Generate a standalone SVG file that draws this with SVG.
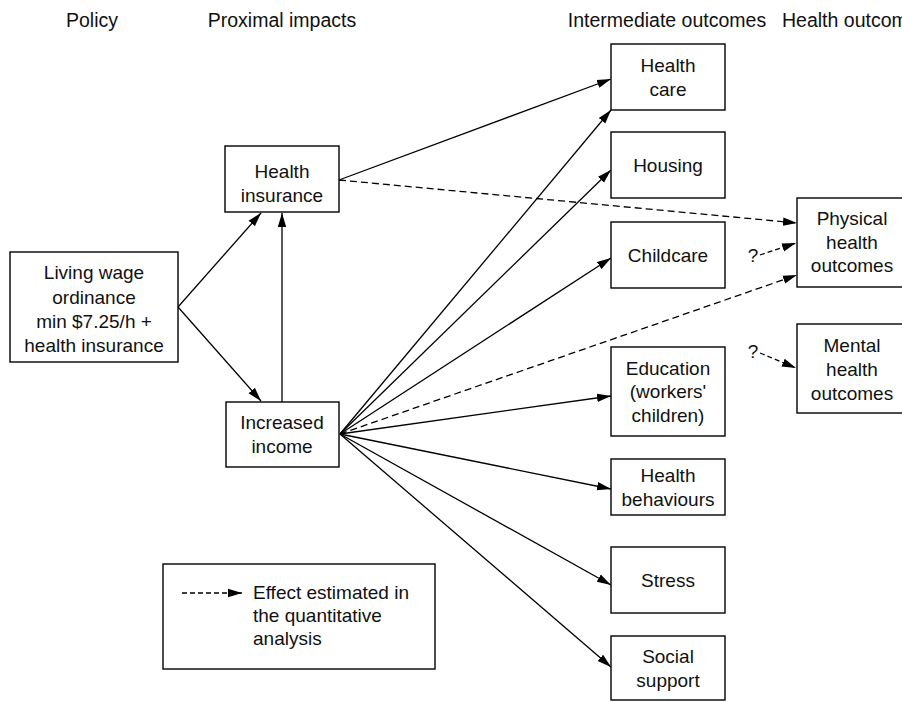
<svg xmlns="http://www.w3.org/2000/svg" width="902" height="702" viewBox="0 0 902 702">
<defs>
<marker id="ah" markerUnits="userSpaceOnUse" markerWidth="16" markerHeight="10" refX="14" refY="5" orient="auto">
<path d="M0,0.8 L14,5 L0,9.2 Z" fill="#000"/>
</marker>
</defs>
<style>
text{font-family:"Liberation Sans",Arial,sans-serif;font-size:19px;fill:#111;text-anchor:middle}
.hdr{font-size:19.5px}
.box{fill:#fff;stroke:#000;stroke-width:1.4}
.ln{fill:none;stroke:#000;stroke-width:1.3}
.arr{marker-end:url(#ah)}
.dash{stroke-dasharray:7,4}
.sdash{stroke-dasharray:5,3}
</style>
<rect width="902" height="702" fill="#fff"/>
<g id="headers">
<text class="hdr" x="92" y="27">Policy</text>
<text class="hdr" x="282" y="27">Proximal impacts</text>
<text class="hdr" x="667" y="27">Intermediate outcomes</text>
<text class="hdr" x="782" y="27" style="text-anchor:start">Health outcomes</text>
</g>
<g id="connectors">
<line class="ln arr" x1="178" y1="307" x2="261" y2="213"/>
<line class="ln arr" x1="178" y1="307" x2="261" y2="401"/>
<line class="ln arr" x1="282" y1="402" x2="282" y2="213"/>
<line class="ln arr" x1="339" y1="180" x2="611" y2="79"/>
<line class="ln arr dash" x1="339" y1="180" x2="797" y2="223"/>
<line class="ln arr" x1="340" y1="434" x2="611" y2="110"/>
<line class="ln arr" x1="340" y1="434" x2="611" y2="170"/>
<line class="ln arr" x1="340" y1="434" x2="611" y2="258"/>
<line class="ln arr" x1="340" y1="434" x2="611" y2="396"/>
<line class="ln arr" x1="340" y1="434" x2="611" y2="489"/>
<line class="ln arr" x1="340" y1="434" x2="611" y2="585"/>
<line class="ln arr" x1="340" y1="434" x2="611" y2="667"/>
<line class="ln arr dash" x1="340" y1="434" x2="797" y2="275"/>
<line class="ln arr sdash" x1="760" y1="255" x2="796" y2="243"/>
<line class="ln arr sdash" x1="760" y1="353" x2="796" y2="368"/>
<text x="753" y="262">?</text>
<text x="753" y="358">?</text>
</g>
<g id="living-wage">
<rect class="box" x="10" y="252" width="168" height="110"/>
<text x="94" y="279">Living wage</text>
<text x="94" y="303.5">ordinance</text>
<text x="94" y="328">min $7.25/h +</text>
<text x="94" y="352">health insurance</text>
</g>
<g id="health-insurance">
<rect class="box" x="225" y="146" width="114" height="66"/>
<text x="282" y="177.5">Health</text>
<text x="282" y="202">insurance</text>
</g>
<g id="increased-income">
<rect class="box" x="226" y="402" width="113" height="65"/>
<text x="282" y="428.5">Increased</text>
<text x="282" y="452.5">income</text>
</g>
<g id="health-care">
<rect class="box" x="611" y="44" width="114" height="66"/>
<text x="668" y="71.5">Health</text>
<text x="668" y="95.5">care</text>
</g>
<g id="housing">
<rect class="box" x="611" y="132" width="114" height="66"/>
<text x="668" y="172">Housing</text>
</g>
<g id="childcare">
<rect class="box" x="611" y="222" width="114" height="66"/>
<text x="668" y="262">Childcare</text>
</g>
<g id="education">
<rect class="box" x="611" y="347" width="114" height="89"/>
<text x="668" y="374.5">Education</text>
<text x="668" y="398">(workers'</text>
<text x="668" y="422">children)</text>
</g>
<g id="health-behaviours">
<rect class="box" x="611" y="459" width="114" height="56"/>
<text x="668" y="481.5">Health</text>
<text x="668" y="505.5">behaviours</text>
</g>
<g id="stress">
<rect class="box" x="611" y="547" width="114" height="66"/>
<text x="668" y="587">Stress</text>
</g>
<g id="social-support">
<rect class="box" x="611" y="636" width="114" height="64"/>
<text x="668" y="663">Social</text>
<text x="668" y="687">support</text>
</g>
<g id="physical">
<rect class="box" x="797" y="198" width="110" height="89"/>
<text x="852" y="225">Physical</text>
<text x="852" y="248.5">health</text>
<text x="852" y="272">outcomes</text>
</g>
<g id="mental">
<rect class="box" x="797" y="324" width="110" height="89"/>
<text x="852" y="352">Mental</text>
<text x="852" y="376">health</text>
<text x="852" y="400">outcomes</text>
</g>
<g id="legend">
<rect class="box" x="163" y="564" width="272" height="105"/>
<line class="ln arr sdash" x1="182" y1="593" x2="242" y2="593"/>
<text x="253" y="599" style="text-anchor:start">Effect estimated in</text>
<text x="253" y="622" style="text-anchor:start">the quantitative</text>
<text x="253" y="645" style="text-anchor:start">analysis</text>
</g>
</svg>
